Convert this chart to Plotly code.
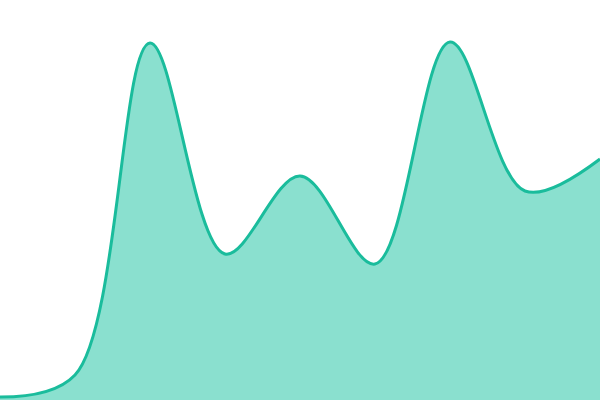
import plotly.graph_objects as go

x_vals = [0, 1, 2, 3, 4, 5, 6, 7, 8]
y_vals = [0.75, 6.25, 89.25, 36.5, 56.0, 34.0, 89.5, 52.25, 60.25]

fig = go.Figure(go.Scatter(
    x=x_vals, y=y_vals, mode="lines",
    line=dict(color="#1abc9c", width=3, shape="spline", smoothing=1.0),
    fill="tozeroy", fillcolor="#8ae0cf",
))
fig.update_layout(
    width=600, height=400, margin=dict(l=0, r=0, t=0, b=0),
    paper_bgcolor="white", plot_bgcolor="white", showlegend=False,
    xaxis=dict(visible=False, range=[0, 8], fixedrange=True),
    yaxis=dict(visible=False, range=[0, 100], fixedrange=True),
)
fig.write_html("out.html", config={"displayModeBar": False},
               post_script="document.body.style.margin='0';document.body.style.overflow='hidden';")
